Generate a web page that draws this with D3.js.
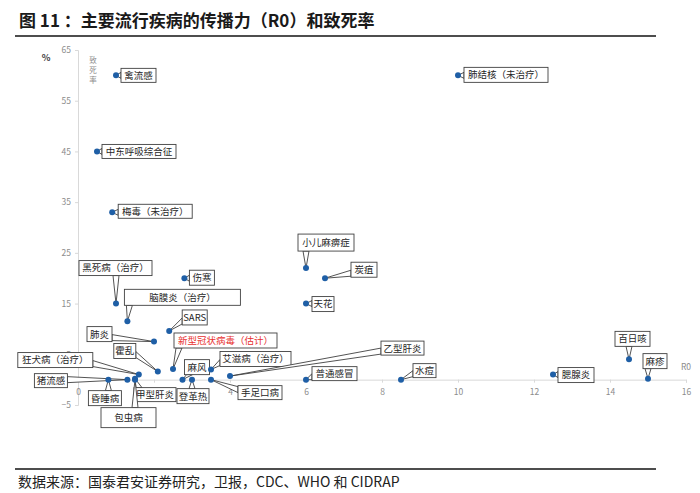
<!DOCTYPE html>
<html>
<head>
<meta charset="utf-8">
<script src="https://cdn.jsdelivr.net/npm/d3@7"></script>
<style>
  html, body { margin: 0; padding: 0; background: #fff; }
  svg text { font-family: "Noto Sans CJK SC", "Noto Sans", sans-serif; }
</style>
</head>
<body>
<div id="chart"></div>
<script>
// --- data ---
const diseases = ['禽流感', '中东呼吸综合征', '梅毒（未治疗）', '肺结核（未治疗）', '黑死病（治疗）',
  '脑膜炎（治疗）', '伤寒', 'SARS', '肺炎', '新型冠状病毒（估计）', '霍乱', '麻风', '登革热',
  '艾滋病（治疗）', '乙型肝炎', '手足口病', '普通感冒', '水痘', '小儿麻痹症', '炭疽', '天花',
  '腮腺炎', '百日咳', '麻疹', '狂犬病（治疗）', '猪流感', '昏睡病', '甲型肝炎', '包虫病'];
const r0 = [1.0, 0.5, 0.9, 10, 1.0, 1.3, 2.8, 2.4, 2.0, 2.5, 2.1, 2.75, 3.0,
  3.5, 4.0, 3.5, 6, 8.5, 6, 6.5, 6, 12.5, 14.5, 15, 1.6, 1.3, 0.8, 1.5, 1.5];
const fatality = [60, 45, 33, 60, 15, 11.5, 20, 9.6, 7.5, 2.1, 1.6, 0, 0,
  2, 0.7, 0, 0, 0, 22, 20, 15, 1, 4, 0.2, 1, 0, 0, 0.2, 0];
const highlight = '新型冠状病毒（估计）';

const xTicks = [0, 2, 4, 6, 8, 10, 12, 14, 16];
const yTicks = [-5, 5, 15, 25, 35, 45, 55, 65];

const title = '图 11 ：主要流行疾病的传播力（R0）和致死率';
const source = '数据来源：国泰君安证券研究，卫报，CDC、WHO 和 CIDRAP';

// callout boxes: offset from the point [dx, dy, w, h] in px
const callout = {
  '禽流感': [5, -7, 35, 14],
  '中东呼吸综合征': [5, -7, 74, 14],
  '梅毒（未治疗）': [6, -8, 74, 14],
  '肺结核（未治疗）': [6, -8, 84, 15],
  '黑死病（治疗）': [-37, -43, 73, 15],
  '脑膜炎（治疗）': [-3, -32, 116, 16],
  '伤寒': [5, -8, 25, 15],
  'SARS': [13, -21, 25, 15],
  '肺炎': [-67, -15, 25, 15],
  '新型冠状病毒（估计）': [1, -36, 103, 15],
  '霍乱': [-44, -28, 22, 15],
  '麻风': [2, -20, 25, 15],
  '登革热': [-15, 9, 32, 15],
  '艾滋病（治疗）': [9, -18, 71, 15],
  '乙型肝炎': [151, -35, 43, 14],
  '手足口病': [27, 6, 44, 14],
  '普通感冒': [6, -13, 45, 14],
  '水痘': [12, -16, 23, 14],
  '小儿麻痹症': [-8, -34, 56, 17],
  '炭疽': [26, -16, 26, 15],
  '天花': [6, -7, 22, 15],
  '腮腺炎': [5, -7, 36, 15],
  '百日咳': [-14, -28, 35, 15],
  '麻疹': [-5, -25, 24, 15],
  '狂犬病（治疗）': [-121, -22, 75, 15],
  '猪流感': [-93, -6, 33, 14],
  '昏睡病': [-20, 11, 33, 15],
  '甲型肝炎': [-1, 9, 42, 14],
  '包虫病': [-34, 28, 55, 20]
};

const W = 700, H = 493;
const svg = d3.select('#chart').append('svg')
  .attr('width', W).attr('height', H)
  .attr('viewBox', `0 0 ${W} ${H}`);

// --- header / footer ---
svg.append('text')
  .attr('x', 19).attr('y', 27)
  .attr('font-size', 17).attr('font-weight', 'bold')
  .attr('fill', '#1a1a1a')
  .attr('xml:space', 'preserve')
  .text(title);
svg.append('line')
  .attr('x1', 15).attr('x2', 656).attr('y1', 36).attr('y2', 36)
  .attr('stroke', '#4d4d4d').attr('stroke-width', 2);
svg.append('line')
  .attr('x1', 15).attr('x2', 656).attr('y1', 469).attr('y2', 469)
  .attr('stroke', '#4d4d4d').attr('stroke-width', 2);
svg.append('text')
  .attr('x', 18).attr('y', 487)
  .attr('font-size', 14).attr('fill', '#222')
  .text(source);

// --- scales ---
const x = d3.scaleLinear().domain([0, 16]).range([78, 686]);
const y = d3.scaleLinear().domain([-5, 65]).range([405, 50]);

// --- axes ---
const yAxis = svg.append('g')
  .attr('transform', `translate(${x(0)},0)`)
  .call(d3.axisLeft(y).tickValues(yTicks).tickSize(3).tickPadding(4));
const xAxis = svg.append('g')
  .attr('transform', `translate(0,${y(0)})`)
  .call(d3.axisBottom(x).tickValues(xTicks).tickSize(3).tickPadding(6));
[xAxis, yAxis].forEach(g => {
  g.select('.domain').attr('stroke', '#d9d9d9');
  g.selectAll('.tick line').attr('stroke', '#d9d9d9');
  g.selectAll('.tick text')
    .attr('fill', '#8c8c8c')
    .attr('font-size', 8.5)
    .attr('font-family', '"Liberation Sans", Arial, sans-serif');
});

svg.append('text')
  .attr('x', 46).attr('y', 61)
  .attr('text-anchor', 'middle')
  .attr('font-size', 9).attr('font-weight', 'bold').attr('fill', '#404040')
  .text('%');
['致', '死', '率'].forEach((c, i) => {
  svg.append('text')
    .attr('x', 93).attr('y', 63 + i * 10)
    .attr('text-anchor', 'middle')
    .attr('font-size', 7.5).attr('fill', '#8c8c8c')
    .text(c);
});
svg.append('text')
  .attr('x', 686).attr('y', 370)
  .attr('text-anchor', 'middle')
  .attr('font-size', 8.5).attr('fill', '#8c8c8c')
  .attr('font-family', '"Liberation Sans", Arial, sans-serif')
  .text('R0');

// --- callouts ---
const pts = diseases.map((name, i) => ({ name, r0: r0[i], rate: fatality[i] }));

function wedge(px, py, bx, by, bw, bh) {
  const x0 = bx, x1 = bx + bw, y0 = by, y1 = by + bh;
  const gx = Math.max(x0 - px, px - x1, 0);
  const gy = Math.max(y0 - py, py - y1, 0);
  const hw = 3;
  if (gy >= gx) {
    const ey = py > y1 ? y1 : y0;
    const cx = Math.max(x0 + 5, Math.min(x1 - 5, px));
    return `M${cx - hw},${ey}L${px},${py}L${cx + hw},${ey}Z`;
  }
  const ex = px > x1 ? x1 : x0;
  const cy = Math.max(y0 + 4, Math.min(y1 - 4, py));
  return `M${ex},${cy - hw}L${px},${py}L${ex},${cy + hw}Z`;
}

const labels = svg.append('g').selectAll('g')
  .data(pts)
  .join('g');

labels.each(function (d) {
  const g = d3.select(this);
  const px = x(d.r0), py = y(d.rate);
  const [dx, dy, w, h] = callout[d.name];
  const bx = px + dx, by = py + dy;
  g.append('path')
    .attr('d', wedge(px, py, bx, by, w, h))
    .attr('fill', '#fff').attr('stroke', '#404040').attr('stroke-width', 0.9);
  g.append('rect')
    .attr('x', bx).attr('y', by).attr('width', w).attr('height', h)
    .attr('fill', '#fff').attr('stroke', '#404040').attr('stroke-width', 0.9);
  g.append('text')
    .attr('x', bx + w / 2).attr('y', by + h / 2)
    .attr('dy', '0.36em')
    .attr('text-anchor', 'middle')
    .attr('font-size', 9.5)
    .attr('fill', d.name === highlight ? '#e8312f' : '#262626')
    .text(d.name);
});

// --- points ---
svg.append('g').selectAll('circle')
  .data(pts)
  .join('circle')
    .attr('cx', d => x(d.r0))
    .attr('cy', d => y(d.rate))
    .attr('r', 3)
    .attr('fill', '#1f5fa6');
</script>
</body>
</html>
